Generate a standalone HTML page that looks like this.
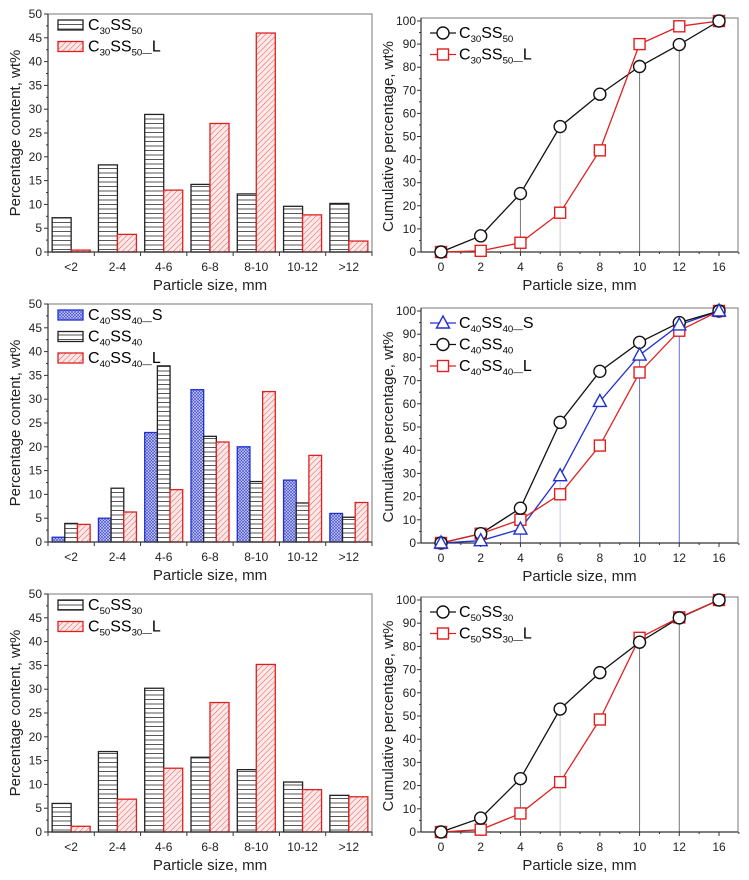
<!DOCTYPE html>
<html><head><meta charset="utf-8"><style>
body{margin:0;background:#fff;}
svg{display:block;font-family:"Liberation Sans",Arial,sans-serif;}
</style></head><body>
<svg id="c" width="749" height="880" viewBox="0 0 749 880">
<defs>
<pattern id="hb" width="6" height="4.5" patternUnits="userSpaceOnUse"><rect width="6" height="4.5" fill="#fff"/><line x1="0" y1="2" x2="6" y2="2" stroke="#444" stroke-width="0.9"/></pattern>
<pattern id="hr" width="4" height="4" patternUnits="userSpaceOnUse" patternTransform="rotate(45)"><rect width="4" height="4" fill="#fde8e8"/><line x1="0" y1="0" x2="0" y2="4" stroke="#e05a5a" stroke-width="1"/></pattern>
<pattern id="hbl" width="3" height="3" patternUnits="userSpaceOnUse"><rect width="3" height="3" fill="#c9cdf5"/><path d="M0,0L3,3M3,0L0,3" stroke="#3a44d0" stroke-width="0.6"/></pattern>
</defs>
</svg>
<script>
const cats=["<2","2-4","4-6","6-8","8-10","10-12",">12"];
const xcum=["0","2","4","6","8","10","12","16"];
const yTicksBar=[0,5,10,15,20,25,30,35,40,45,50];
const yTicksCum=[0,10,20,30,40,50,60,70,80,90,100];
// panel 1
const p1Black=[7.2,18.3,28.9,14.2,12.2,9.6,10.2];
const p1Red=[0.4,3.7,13,27,46,7.8,2.3];
const p1CumBlack=[0,7,25.3,54.3,68.3,80.3,89.8,100];
const p1CumRed=[0,0.5,4,17,44,90,97.7,100];
// panel 2
const p2Blue=[1,5,23,32,20,13,6];
const p2Black=[3.9,11.3,37,22.2,12.7,8.2,5.2];
const p2Red=[3.7,6.3,11,21,31.6,18.2,8.3];
const p2CumBlue=[0,1,6,29,61,81,94,100];
const p2CumBlack=[0,4,15,52,74,86.5,95,100];
const p2CumRed=[0,4,10,21,42,73.5,91.5,100];
// panel 3
const p3Black=[6,16.9,30.2,15.7,13.1,10.5,7.7];
const p3Red=[1.2,6.9,13.4,27.2,35.2,8.9,7.4];
const p3CumBlack=[0,6,23,53,68.7,81.8,92.3,100];
const p3CumRed=[0,1,8,21.5,48.5,83.7,92.5,100];

const svg=document.getElementById('c');
const NS='http://www.w3.org/2000/svg';
function mk(tag,attrs,parent,text){const e=document.createElementNS(NS,tag);for(const k in attrs)e.setAttribute(k,attrs[k]);if(text!==undefined)e.textContent=text;(parent||svg).appendChild(e);return e;}
function sub(parent,x,y,parts,size){
 const t=mk('text',{x:x,y:y,'font-size':size},parent);
 parts.forEach(p=>{mk('tspan',p[1]?{'font-size':size*0.6,dy:p[1]}:{'font-size':size,dy:p[2]||0},t,p[0]);});
 return t;}
const TF=12,AF=15;
function barPanel(y0,y50,series,legend,pname){
 const g=mk('g',{});
 
 
 const L=48,R=372,step=(R-L)/7;
 const ys=v=>y0-(y0-y50)*v/50;
 mk('rect',{x:L,y:y50,width:R-L,height:y0-y50,fill:'none',stroke:'#777','stroke-width':1},g);
 const n=series.length,bw=38/n;
 series.forEach((s,si)=>{s.data.forEach((v,i)=>{
   const cx=L+step*(i+0.5);const x=cx-19+si*bw;
   const r=mk('rect',{x:x,y:ys(v),width:bw,height:y0-ys(v),fill:'url(#'+s.fill+')',stroke:s.stroke,'stroke-width':1.3},g);
   
   
 });});
 mk('line',{x1:L,y1:y0,x2:R,y2:y0,stroke:'#333','stroke-width':1.2},g);
 mk('line',{x1:L,y1:y0,x2:L,y2:y50,stroke:'#333','stroke-width':1.2},g);
 yTicksBar.forEach(v=>{const y=ys(v);mk('line',{x1:L-4,y1:y,x2:L,y2:y,stroke:'#333'},g);
  if(v<50)mk('line',{x1:L-2,y1:ys(v+2.5),x2:L,y2:ys(v+2.5),stroke:'#333'},g);
  const t=mk('text',{x:L-6,y:y+4,'text-anchor':'end','font-size':TF,fill:'#222'},g,String(v));});
 for(let i=0;i<=7;i++){const x=L+step*i;mk('line',{x1:x,y1:y0,x2:x,y2:y0+4,stroke:'#333'},g);}
 cats.forEach((c,i)=>{const t=mk('text',{x:L+step*(i+0.5),y:y0+19,'text-anchor':'middle','font-size':TF,fill:'#222'},g,c);});
 const xt=mk('text',{x:(L+R)/2,y:y0+38,'text-anchor':'middle','font-size':AF,fill:'#222'},g,'Particle size, mm');
 
 const yc=(y0+y50)/2;
 const yt=mk('text',{x:0,y:0,transform:'translate(20,'+yc+') rotate(-90)','text-anchor':'middle','font-size':AF,fill:'#222'},g,'Percentage content, wt%');
 
 legend.forEach((e,i)=>{const cy=y50+11+i*21.5;
  const lg=mk('g',{},g);
  mk('rect',{x:58,y:cy-5,width:25,height:10,fill:'url(#'+e.fill+')',stroke:e.stroke,'stroke-width':1.3},lg);
  sub(lg,88,cy+5,e.label,16);});
}
function cumPanel(y0,y100,series,legend,drops,pname){
 const g=mk('g',{});
 
 
 const L=421,R=738,x0=441,step=(719-441)/7;
 const ys=v=>y0-(y0-y100)*v/100;const xs=i=>x0+step*i;
 mk('rect',{x:L,y:y100-3,width:R-L,height:y0-y100+3,fill:'none',stroke:'#777'},g);
 drops.forEach(d=>{const s=series[0].data;mk('line',{x1:xs(d.i),y1:ys(s[d.i]),x2:xs(d.i),y2:y0,stroke:d.c,'stroke-width':1},g);});
 mk('line',{x1:L,y1:y0,x2:R,y2:y0,stroke:'#333','stroke-width':1.2},g);
 mk('line',{x1:L,y1:y0,x2:L,y2:y100-3,stroke:'#333','stroke-width':1.2},g);
 yTicksCum.forEach(v=>{const y=ys(v);mk('line',{x1:L-4,y1:y,x2:L,y2:y,stroke:'#333'},g);
  if(v<100)mk('line',{x1:L-2,y1:ys(v+5),x2:L,y2:ys(v+5),stroke:'#333'},g);
  const t=mk('text',{x:L-5,y:y+4,'text-anchor':'end','font-size':TF,fill:'#222'},g,String(v));});
 xcum.forEach((c,i)=>{mk('line',{x1:xs(i),y1:y0,x2:xs(i),y2:y0+4,stroke:'#333'},g);
  mk('line',{x1:xs(i)+step/2,y1:y0,x2:xs(i)+step/2,y2:y0+2,stroke:'#333'},g);
  const t=mk('text',{x:xs(i),y:y0+19,'text-anchor':'middle','font-size':TF,fill:'#222'},g,c);});
 const xt=mk('text',{x:(L+R)/2,y:y0+38,'text-anchor':'middle','font-size':AF,fill:'#222'},g,'Particle size, mm');
 
 const yt=mk('text',{x:0,y:0,transform:'translate(393,'+((y0+y100)/2)+') rotate(-90)','text-anchor':'middle','font-size':AF,fill:'#222'},g,'Cumulative percentage, wt%');
 
 function marker(par,m,x,y,c){if(m==='o')return mk('circle',{cx:x,cy:y,r:6,fill:'#fff',stroke:c,'stroke-width':1.4},par);
  if(m==='s')return mk('rect',{x:x-5.5,y:y-5.5,width:11,height:11,fill:'#fff',stroke:c,'stroke-width':1.4},par);
  return mk('path',{d:'M'+x+','+(y-7)+'L'+(x+6.5)+','+(y+5)+'L'+(x-6.5)+','+(y+5)+'Z',fill:'#fff',stroke:c,'stroke-width':1.4},par);}
 series.forEach(s=>{const pl=mk('polyline',{points:s.data.map((v,i)=>xs(i)+','+ys(v)).join(' '),fill:'none',stroke:s.c,'stroke-width':1.3},g);
  });
 series.slice().reverse().forEach(s=>{s.data.forEach((v,i)=>{const m=marker(g,s.m,xs(i),ys(v),s.c);});});
 legend.forEach((e,i)=>{const cy=y100+12+i*21.5;
  const lg=mk('g',{},g);
  mk('line',{x1:430,y1:cy,x2:456,y2:cy,stroke:e.c,'stroke-width':1.3},lg);marker(lg,e.m,443,cy,e.c);
  sub(lg,459,cy+5,e.label,16);});
}
const lab=(a,b,suf)=>{const p=[['C'],[a,4],['SS',0,-4],[b,4]];if(suf){p.push(['\u2014',1e-3]);p.push([suf,0,-4]);}return p;};
const K={fill:'hb',stroke:'#222'},Rd={fill:'hr',stroke:'#e02020'},B={fill:'hbl',stroke:'#2030d0'};
barPanel(252,14,[{data:p1Black,key:'c30ss50',...K},{data:p1Red,key:'c30ss50-l',...Rd}],
 [{...K,label:lab('30','50')},{...Rd,label:lab('30','50','L')}],'bar-chart-c30ss50');
barPanel(542,304,[{data:p2Blue,key:'c40ss40-s',...B},{data:p2Black,key:'c40ss40',...K},{data:p2Red,key:'c40ss40-l',...Rd}],
 [{...B,label:lab('40','40','S')},{...K,label:lab('40','40')},{...Rd,label:lab('40','40','L')}],'bar-chart-c40ss40');
barPanel(832,594,[{data:p3Black,key:'c50ss30',...K},{data:p3Red,key:'c50ss30-l',...Rd}],
 [{...K,label:lab('50','30')},{...Rd,label:lab('50','30','L')}],'bar-chart-c50ss30');
const cK={c:'#111',m:'o'},cR={c:'#e02020',m:'s'},cB={c:'#2030d0',m:'t'};
const dropsG=[{i:2,c:'#777'},{i:3,c:'#ccc'},{i:5,c:'#777'},{i:6,c:'#777'}];
cumPanel(252,21,[{data:p1CumBlack,key:'c30ss50',...cK},{data:p1CumRed,key:'c30ss50-l',...cR}],
 [{...cK,label:lab('30','50')},{...cR,label:lab('30','50','L')}],dropsG,'cumulative-chart-c30ss50');
cumPanel(543,311,[{data:p2CumBlue,key:'c40ss40-s',...cB},{data:p2CumBlack,key:'c40ss40',...cK},{data:p2CumRed,key:'c40ss40-l',...cR}],
 [{...cB,label:lab('40','40','S')},{...cK,label:lab('40','40')},{...cR,label:lab('40','40','L')}],
 [{i:2,c:'#6670e0'},{i:3,c:'#c8ccf0'},{i:5,c:'#6670e0'},{i:6,c:'#6670e0'}],'cumulative-chart-c40ss40');
cumPanel(832,600,[{data:p3CumBlack,key:'c50ss30',...cK},{data:p3CumRed,key:'c50ss30-l',...cR}],
 [{...cK,label:lab('50','30')},{...cR,label:lab('50','30','L')}],dropsG,'cumulative-chart-c50ss30');
</script>
</body></html>
